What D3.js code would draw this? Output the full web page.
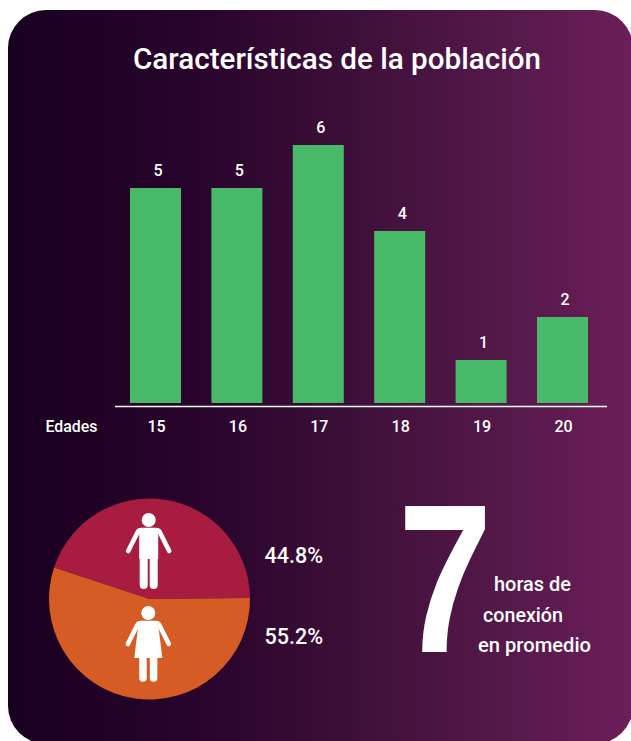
<!DOCTYPE html>
<html lang="es">
<head>
<meta charset="utf-8">
<title>Características de la población</title>
<script src="https://cdn.jsdelivr.net/npm/d3@7"></script>
<style>
  html, body { margin: 0; padding: 0; background: #fff; overflow: hidden; }
  svg { display: block; }
  text { font-family: Roboto, sans-serif; fill: #fff; }
</style>
</head>
<body>
<script>
// Datos del gráfico
const ages = ["15", "16", "17", "18", "19", "20"];
const ageCounts = [5, 5, 6, 4, 1, 2];
const genders = ["Hombres", "Mujeres"];
const genderShares = [44.8, 55.2];
const genderLabels = ["44.8%", "55.2%"];
const genderColors = ["#a81d3f", "#d65c26"];
const connectionHours = "7";
const connectionLines = ["horas de", "conexión", "en promedio"];

const width = 631, height = 741;
const svg = d3.select("body").append("svg").attr("width", width).attr("height", height);

// Panel de fondo con degradado horizontal
const grad = svg.append("defs").append("linearGradient").attr("id", "panel");
[[0, "#190020"], [0.3, "#28042c"], [0.55, "#3d0f38"], [0.8, "#55194a"], [1, "#6c1e59"]].forEach(([o, c]) =>
  grad.append("stop").attr("offset", o).attr("stop-color", c));
svg.append("rect").attr("x", 8).attr("y", 10).attr("width", 625).attr("height", 734)
  .attr("rx", 38).attr("fill", "url(#panel)");

svg.append("text").attr("x", 133).attr("y", 69)
  .attr("font-size", 29).attr("font-weight", 500)
  .attr("textLength", 408).attr("lengthAdjust", "spacingAndGlyphs")
  .text("Características de la población");

// Barras por edad
const x = d3.scaleBand().domain(ages).range([130, 588]).paddingInner(0.3735).paddingOuter(0);
const y = d3.scaleLinear().domain([0, 6]).range([403, 145]);

svg.selectAll("rect.bar").data(ages).join("rect").attr("class", "bar")
  .attr("x", d => x(d)).attr("width", x.bandwidth())
  .attr("y", (d, i) => y(ageCounts[i]))
  .attr("height", (d, i) => y(0) - y(ageCounts[i]))
  .attr("fill", "#47b968");

svg.selectAll("text.value").data(ages).join("text").attr("class", "value")
  .attr("x", d => x(d) + x.bandwidth() / 2 + 2.5)
  .attr("y", (d, i) => y(ageCounts[i]) - 12)
  .attr("text-anchor", "middle").attr("font-size", 16).attr("font-weight", 500)
  .text((d, i) => ageCounts[i]);

// Eje de edades
const axis = svg.append("g").attr("transform", "translate(0,406.5)")
  .call(d3.axisBottom(x).tickSize(0).tickPadding(14));
axis.select(".domain").remove();
axis.selectAll("text").attr("font-size", 16).attr("font-weight", 500).attr("dx", 1)
  .style("font-family", "Roboto, sans-serif");
axis.append("line").attr("x1", 115).attr("x2", 607).attr("stroke", "#fff").attr("stroke-width", 1.6);

svg.append("text").attr("x", 45.5).attr("y", 432).attr("font-size", 16).attr("font-weight", 500)
  .attr("textLength", 52).attr("lengthAdjust", "spacingAndGlyphs").text("Edades");

// Distribución por sexo
const pieCenter = [149.5, 599];
const pie = d3.pie().sort(null)
  .startAngle(-71.8 * Math.PI / 180)
  .endAngle((360 - 71.8) * Math.PI / 180);
const arc = d3.arc().innerRadius(0).outerRadius(100.5);
const pieGroup = svg.append("g").attr("transform", `translate(${pieCenter})`);
pieGroup.selectAll("path").data(pie(genderShares)).join("path")
  .attr("d", arc).attr("fill", (d, i) => genderColors[i]);

// Figuras de hombre y mujer
function person(cx, top, dress) {
  const g = svg.append("g").attr("fill", "#fff").attr("transform", `translate(${cx},${top})`);
  g.append("circle").attr("cy", 7).attr("r", 7);
  g.append("path").attr("fill", "none").attr("stroke", "#fff").attr("stroke-width", 4.6)
    .attr("stroke-linecap", "round").attr("stroke-linejoin", "round")
    .attr("d", "M-20.5,38 L-11,19 Q-10,17 -7,17 L7,17 Q10,17 11,19 L20.5,38");
  if (dress) {
    g.append("path").attr("d", "M-9.5,15 L9.5,15 L14,52 L-14,52 Z");
    g.append("path").attr("fill", "none").attr("stroke", "#fff").attr("stroke-width", 7.5)
      .attr("stroke-linecap", "round").attr("d", "M-5.3,50 V72 M5.3,50 V72");
  } else {
    g.append("rect").attr("x", -9.5).attr("y", 15).attr("width", 19).attr("height", 31);
    g.append("path").attr("fill", "none").attr("stroke", "#fff").attr("stroke-width", 8)
      .attr("stroke-linecap", "round").attr("d", "M-5,40 V72 M5,40 V72");
  }
}
person(148.7, 513, false);
person(148.3, 606, true);

svg.selectAll("text.share").data(genders).join("text").attr("class", "share")
  .attr("x", 264.5).attr("y", (d, i) => [562.5, 644][i])
  .attr("font-size", 22).attr("font-weight", 500)
  .attr("textLength", 58.5).attr("lengthAdjust", "spacingAndGlyphs")
  .text((d, i) => genderLabels[i]);

// Horas de conexión: cifra grande estrechada en horizontal
svg.append("text").attr("transform", "translate(398,652) scale(0.8,1)")
  .style("font-family", "'Liberation Sans', sans-serif")
  .attr("font-size", 212).attr("font-weight", 700).text(connectionHours);

const lineLayout = [[494, 591, 77], [483, 622, 80], [478, 652, 113]];
svg.selectAll("text.note").data(connectionLines).join("text").attr("class", "note")
  .attr("x", (d, i) => lineLayout[i][0]).attr("y", (d, i) => lineLayout[i][1])
  .attr("font-size", 19.5).attr("font-weight", 500)
  .attr("textLength", (d, i) => lineLayout[i][2]).attr("lengthAdjust", "spacingAndGlyphs")
  .text(d => d);
</script>
</body>
</html>
